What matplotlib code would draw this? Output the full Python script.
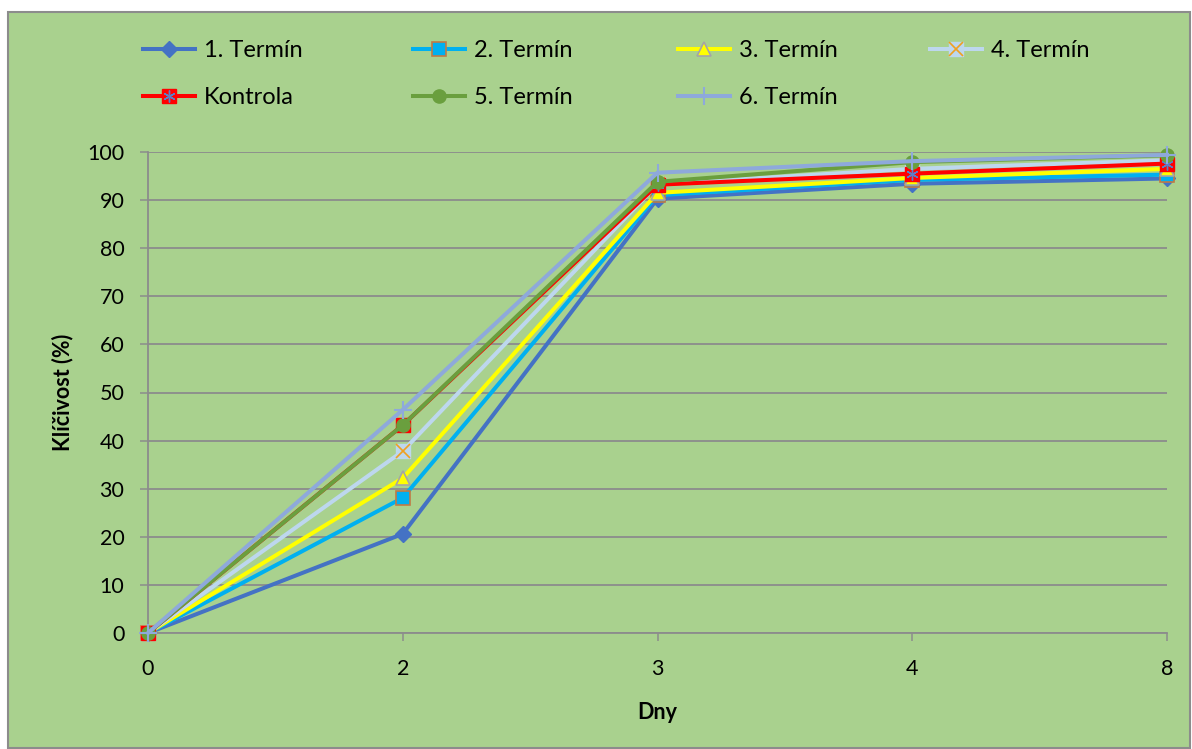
import matplotlib
matplotlib.use("Agg")
import matplotlib.pyplot as plt
from matplotlib.patches import Rectangle
from matplotlib.legend_handler import HandlerTuple

plt.rcParams['font.family'] = ['Lato', 'DejaVu Sans']

days = ["0", "2", "3", "4", "8"]
t1 = [0, 20.6, 90.3, 93.4, 94.5]
t2 = [0, 28.1, 91.0, 94.2, 95.3]
t3 = [0, 32.2, 91.5, 94.6, 96.5]
t4 = [0, 37.8, 93.3, 96.5, 98.3]
kontrola = [0, 43.2, 93.2, 95.5, 97.6]
t5 = [0, 43.2, 93.8, 97.9, 99.3]
t6 = [0, 46.4, 95.7, 98.1, 99.4]

BG = "#A9D18E"
GRID = "#8C8C8C"

W, H = 1192, 749
fig = plt.figure(figsize=(W / 100, H / 100), dpi=100)
fig.patch.set_facecolor("white")
fig.add_artist(Rectangle((8 / W, 1 - 748 / H), (1190 - 8) / W, (748 - 12) / H,
                         transform=fig.transFigure, facecolor=BG, edgecolor="#8C8C8C",
                         linewidth=1.5, zorder=-10))

ax = fig.add_axes([148 / W, 1 - 633 / H, (1167 - 148) / W, (633 - 152) / H])
ax.set_facecolor(BG)
ax.patch.set_alpha(0)

x = list(range(len(days)))
lw = 2.9
ms = 9.5

h1, = ax.plot(x, t1, color="#4472C4", lw=lw, marker="D", ms=ms * 0.85,
              mfc="#4472C4", mec="#4472C4", label="1. Termín", zorder=3)
h2, = ax.plot(x, t2, color="#00B0F0", lw=lw, marker="s", ms=ms,
              mfc="#00B0F0", mec="#C07A45", mew=1.2, label="2. Termín", zorder=4)
h3, = ax.plot(x, t3, color="#FFFF00", lw=lw, marker="^", ms=ms * 1.05,
              mfc="#FFFF00", mec="#A5A5A5", mew=1.2, label="3. Termín", zorder=5)
h4, = ax.plot(x, t4, color="#BDD7EE", lw=lw, marker="s", ms=ms,
              mfc="#BDD7EE", mec="#BDD7EE", label="4. Termín", zorder=6)
h4x, = ax.plot(x, t4, ls="none", marker="x", ms=ms, mec="#F0A020", mew=1.2, zorder=6)
hk, = ax.plot(x, kontrola, color="#FF0000", lw=lw, marker="s", ms=ms,
              mfc="#FF0000", mec="#FF0000", label="Kontrola", zorder=7)
hkx, = ax.plot(x, kontrola, ls="none", marker=(6, 2, 0), ms=ms * 0.9,
               mec="#5B7FC7", mew=1.0, zorder=7)
h5, = ax.plot(x, t5, color="#6A9F3E", lw=lw, marker="o", ms=ms,
              mfc="#6A9F3E", mec="#6A9F3E", label="5. Termín", zorder=8)
h6, = ax.plot(x, t6, color="#8EA9DB", lw=lw, marker="+", ms=ms * 1.3,
              mec="#8EA9DB", mew=1.5, label="6. Termín", zorder=9)

ax.set_xlim(0, len(days) - 1)
ax.set_ylim(0, 100)
ax.set_xticks(x)
ax.set_xticklabels(days)
ax.set_yticks(range(0, 101, 10))
ax.yaxis.grid(True, color=GRID, lw=1.3)
ax.set_axisbelow(True)
for s in ["top", "right"]:
    ax.spines[s].set_visible(False)
for s in ["left", "bottom"]:
    ax.spines[s].set_color(GRID)
    ax.spines[s].set_linewidth(1.3)
ax.tick_params(axis="both", colors=GRID, length=6, width=1.1, labelcolor="black",
               labelsize=15.5)
ax.tick_params(axis="x", pad=13)
ax.tick_params(axis="y", pad=11)

for lbl in ax.get_xticklabels() + ax.get_yticklabels():
    lbl.set_clip_on(False)
for line in ax.get_lines():
    line.set_clip_on(False)

ax.set_xlabel("Dny", fontsize=15.5, fontweight="bold", labelpad=16)
ax.set_ylabel("Klíčivost (%)", fontsize=15.5, fontweight="bold", labelpad=10)

# legend laid out row by row in four columns
columns = [
    ([h1, (hk, hkx)], ["1. Termín", "Kontrola"], 143),
    ([h2, h5], ["2. Termín", "5. Termín"], 413),
    ([h3, h6], ["3. Termín", "6. Termín"], 678),
    ([(h4, h4x)], ["4. Termín"], 930),
]
for hs, ls_, xpix in columns:
    fig.legend(hs, ls_, loc="upper left", bbox_to_anchor=(xpix / W, 1 - 40 / H),
               frameon=False, fontsize=17, handlelength=2.2, handletextpad=0.38,
               labelspacing=1.1, borderpad=0, borderaxespad=0,
               handler_map={tuple: HandlerTuple(ndivide=1)})

fig.savefig("out.png", dpi=100, facecolor=fig.get_facecolor())
